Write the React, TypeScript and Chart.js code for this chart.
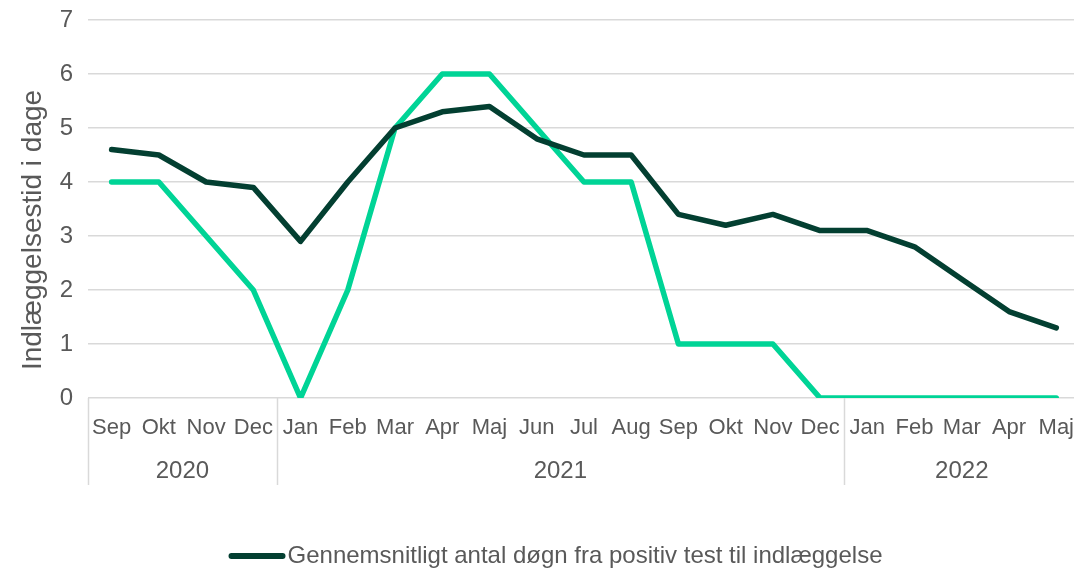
import React, { useEffect, useRef } from "react";
import { Chart, registerables } from "chart.js";

Chart.register(...registerables);

const months = ["Sep", "Okt", "Nov", "Dec", "Jan", "Feb", "Mar", "Apr", "Maj", "Jun", "Jul", "Aug", "Sep", "Okt", "Nov", "Dec", "Jan", "Feb", "Mar", "Apr", "Maj"];
const years = ["2020", "2021", "2022"];
const yearCounts = [4, 12, 5];
const meanDays = [4.6, 4.5, 4.0, 3.9, 2.9, 4.0, 5.0, 5.3, 5.4, 4.8, 4.5, 4.5, 3.4, 3.2, 3.4, 3.1, 3.1, 2.8, 2.2, 1.6, 1.3];
const medianDays = [4, 4, 3, 2, 0, 2, 5, 6, 6, 5, 4, 4, 1, 1, 1, 0, 0, 0, 0, 0, 0];
const meanLabel = "Gennemsnitligt antal døgn fra positiv test til indlæggelse";
const medianLabel = "Median antal døgn fra positiv test til indlæggelse";
const yTitle = "Indlæggelsestid i dage";

const FONT = "'Liberation Sans', Arial, sans-serif";
const TEXT = "#595959";
const GRID = "#d9d9d9";
const DARK = "#033f31";
const BRIGHT = "#00d496";

const groupPlugin = {
  id: "groupAxis",
  afterDraw(chart: any) {
    const ctx = chart.ctx;
    const x = chart.scales.x;
    const area = chart.chartArea;
    ctx.save();
    // year group dividers
    ctx.strokeStyle = GRID;
    ctx.lineWidth = 1.5;
    const bottom = area.bottom + 87;
    const bounds: number[] = [area.left];
    let idx = 0;
    yearCounts.forEach((c) => {
      idx += c;
      if (idx < months.length) {
        bounds.push((x.getPixelForValue(idx - 1) + x.getPixelForValue(idx)) / 2);
      } else {
        bounds.push(area.right);
      }
    });
    bounds.forEach((bx) => {
      ctx.beginPath();
      ctx.moveTo(Math.round(bx) + 0.5, area.bottom);
      ctx.lineTo(Math.round(bx) + 0.5, bottom);
      ctx.stroke();
    });
    // year labels
    ctx.fillStyle = TEXT;
    ctx.font = `24px ${FONT}`;
    ctx.textAlign = "center";
    ctx.textBaseline = "middle";
    let start = 0;
    years.forEach((yr, i) => {
      const end = start + yearCounts[i] - 1;
      const cx = (x.getPixelForValue(start) + x.getPixelForValue(end)) / 2;
      ctx.fillText(yr, cx, area.bottom + 73);
      start = end + 1;
    });
    // legend (wraps: second entry on the next line)
    const datasets = chart.data.datasets;
    ctx.textAlign = "left";
    const boxW = 57;
    const gap = 2;
    const legendY = area.bottom + 158;
    datasets.forEach((ds: any, i: number) => {
      const tw = ctx.measureText(ds.label).width;
      const w = boxW + gap + tw;
      const left = chart.width / 2 + 10 - w / 2;
      const y = legendY + i * 34;
      ctx.strokeStyle = ds.borderColor;
      ctx.lineWidth = 6;
      ctx.lineCap = "round";
      ctx.beginPath();
      ctx.moveTo(left + 3, y);
      ctx.lineTo(left + boxW - 3, y);
      ctx.stroke();
      ctx.fillText(ds.label, left + boxW + gap, y);
    });
    // y axis title
    ctx.textAlign = "center";
    ctx.font = `28px ${FONT}`;
    ctx.translate(33, 230);
    ctx.rotate(-Math.PI / 2);
    ctx.fillText(yTitle, 0, 0);
    ctx.restore();
  },
};

export default function App() {
  const ref = useRef<HTMLCanvasElement | null>(null);
  useEffect(() => {
    if (!ref.current) return;
    const chart = new Chart(ref.current, {
      type: "line",
      data: {
        labels: months,
        datasets: [
          {
            label: meanLabel,
            data: meanDays,
            borderColor: DARK,
            backgroundColor: DARK,
            borderWidth: 5.5,
            pointRadius: 0,
            borderJoinStyle: "round",
            borderCapStyle: "round",
            tension: 0,
          },
          {
            label: medianLabel,
            data: medianDays,
            borderColor: BRIGHT,
            backgroundColor: BRIGHT,
            borderWidth: 5.5,
            pointRadius: 0,
            borderJoinStyle: "round",
            borderCapStyle: "round",
            tension: 0,
          },
        ],
      },
      options: {
        responsive: false,
        animation: false,
        layout: { padding: { top: 0, right: 0, left: 0, bottom: 50 } },
        plugins: {
          tooltip: { enabled: false },
          legend: { display: false },
        },
        scales: {
          x: {
            offset: true,
            grid: { display: false, drawTicks: false },
            border: { display: false },
            ticks: {
              font: { family: FONT, size: 22 },
              color: TEXT,
              padding: 17,
              maxRotation: 0,
              minRotation: 0,
              autoSkip: false,
            },
            afterFit: (s: any) => {
              s.height = 120;
            },
          },
          y: {
            min: 0,
            max: 7,
            ticks: {
              stepSize: 1,
              font: { family: FONT, size: 24 },
              color: TEXT,
              padding: 15,
            },
            grid: { color: GRID, lineWidth: 1.5, drawTicks: false },
            border: { display: false },
            afterFit: (s: any) => {
              s.width = 88;
              s.paddingTop = 20;
            },
          },
        },
      },
      plugins: [groupPlugin],
    });
    return () => chart.destroy();
  }, []);
  return (
    <div style={{ position: "absolute", left: 0, top: 0, width: 1074, height: 568, overflow: "hidden", background: "#fff" }}>
      <canvas ref={ref} width={1091} height={568} style={{ display: "block" }} />
    </div>
  );
}
